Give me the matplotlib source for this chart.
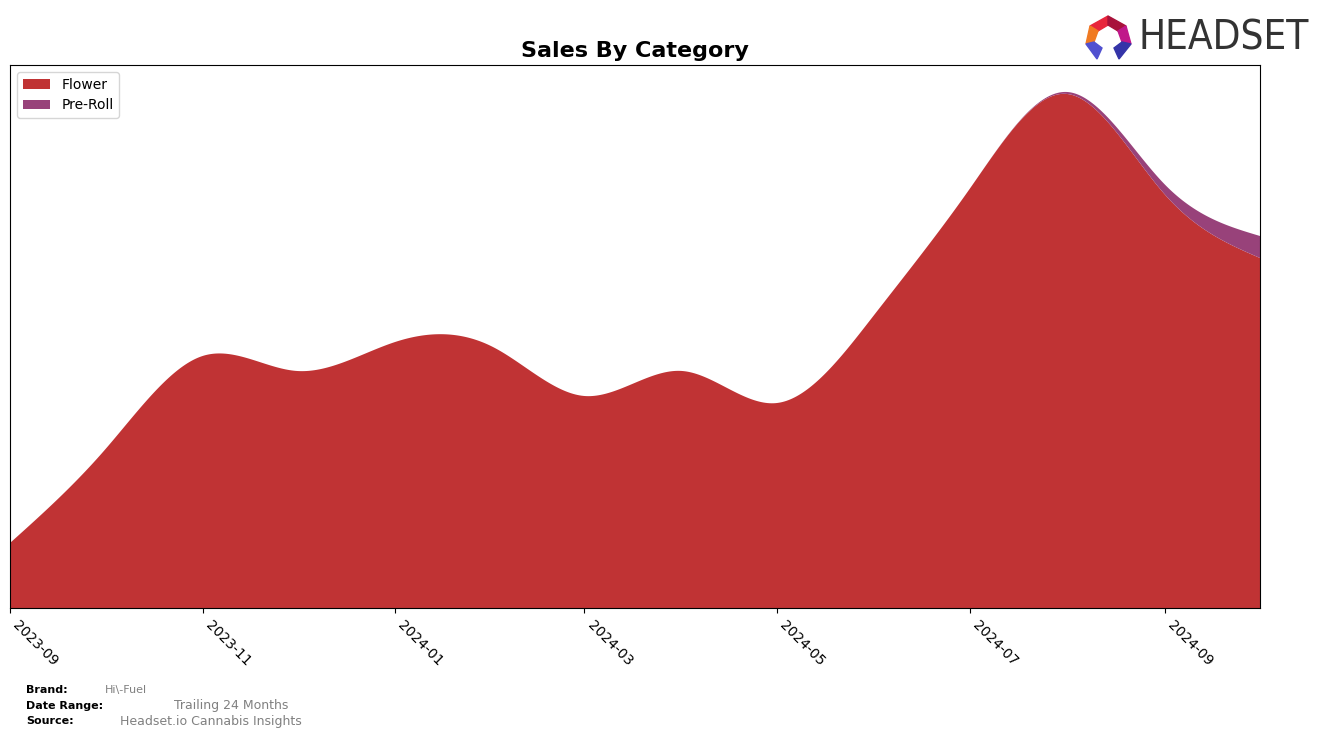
import numpy as np
import matplotlib
matplotlib.use('Agg')
import matplotlib.pyplot as plt
import matplotlib.dates as mdates
from matplotlib.patches import Polygon
from datetime import date

# monthly values (relative units, y axis has no labels)
months = ['2023-09', '2023-10', '2023-11', '2023-12', '2024-01', '2024-02', '2024-03',
          '2024-04', '2024-05', '2024-06', '2024-07', '2024-08', '2024-09', '2024-10']
flower = [65, 158, 252, 237, 266, 261, 212, 237, 205, 294, 419, 514, 413, 350]
pre_roll = [0, 0, 0, 0, 0, 0, 0, 0, 0, 0, 0, 2, 10, 22]

categories = ['Flower', 'Pre-Roll']
colors = ['#c03334', '#98427a']
tick_labels = ['2023-09', '2023-11', '2024-01', '2024-03', '2024-05', '2024-07', '2024-09']


def natural_spline(x, y, xs):
    x = np.asarray(x, float)
    y = np.asarray(y, float)
    n = len(x)
    h = np.diff(x)
    A = np.zeros((n, n))
    b = np.zeros(n)
    A[0, 0] = A[-1, -1] = 1
    for i in range(1, n - 1):
        A[i, i - 1] = h[i - 1]
        A[i, i] = 2 * (h[i - 1] + h[i])
        A[i, i + 1] = h[i]
        b[i] = 3 * ((y[i + 1] - y[i]) / h[i] - (y[i] - y[i - 1]) / h[i - 1])
    c = np.linalg.solve(A, b)
    bc = (y[1:] - y[:-1]) / h - h * (2 * c[:-1] + c[1:]) / 3
    d = (c[1:] - c[:-1]) / (3 * h)
    idx = np.clip(np.searchsorted(x, xs) - 1, 0, n - 2)
    dx = xs - x[idx]
    return y[idx] + bc[idx] * dx + c[idx] * dx ** 2 + d[idx] * dx ** 3


x = mdates.date2num([date(int(m[:4]), int(m[5:]), 1) for m in months])
xs = np.linspace(x[0], x[-1], 600)
flower_s = np.clip(natural_spline(x, flower, xs), 0, None)
pre_roll_s = np.clip(natural_spline(x, pre_roll, xs), 0, None)
pre_roll_s[xs < x[10]] = 0

fig = plt.figure(figsize=(13.24, 7.38), dpi=100)
ax = fig.add_axes([10 / 1324, 1 - 608 / 738, 1250 / 1324, 543 / 738])

ax.stackplot(xs, flower_s, pre_roll_s, colors=colors, labels=categories)
ax.set_xlim(x[0], x[-1])
ax.set_ylim(0, 543)
ax.set_yticks([])
ticks = mdates.date2num([date(int(t[:4]), int(t[5:]), 1) for t in tick_labels])
ax.set_xticks(ticks)
ax.set_xticklabels(tick_labels, rotation=-45, ha='left', fontsize=10)
ax.legend(loc='upper left', fontsize=10, handlelength=2)
ax.set_title('Sales By Category', fontsize=16, fontweight='bold', pad=6)

# footer
fig.text(26 / 1324, 1 - 690 / 738, 'Brand:', fontsize=8, fontweight='bold', va='center')
fig.text(105 / 1324, 1 - 690 / 738, 'Hi\\-Fuel', fontsize=8, color='grey', va='center')
fig.text(26 / 1324, 1 - 706 / 738, 'Date Range:', fontsize=8, fontweight='bold', va='center')
fig.text(174 / 1324, 1 - 706 / 738, 'Trailing 24 Months', fontsize=9, color='grey', va='center')
fig.text(26 / 1324, 1 - 721 / 738, 'Source:', fontsize=8, fontweight='bold', va='center')
fig.text(120 / 1324, 1 - 721 / 738, 'Headset.io Cannabis Insights', fontsize=9, color='grey', va='center')

# logo
lax = fig.add_axes([1080 / 1324, 1 - 65 / 738, 240 / 1324, 60 / 738])
lax.set_xlim(1080, 1320)
lax.set_ylim(65, 5)
lax.axis('off')
pieces = [
    ([(1090, 26), (1108, 16), (1108, 25), (1098, 31)], '#e8263c'),
    ([(1108, 16), (1126, 26), (1118, 31), (1108, 25)], '#a8123a'),
    ([(1126, 26), (1131, 44), (1122, 42), (1118, 31)], '#c0188a'),
    ([(1090, 26), (1098, 31), (1094, 42), (1086, 44)], '#f07a22'),
    ([(1086, 44), (1094, 42), (1102, 48), (1097, 59)], '#5050d0'),
    ([(1131, 44), (1122, 42), (1114, 48), (1119, 59)], '#3434a8'),
]
for pts, col in pieces:
    lax.add_patch(Polygon(pts, closed=True, color=col))
lax.text(1139, 38, 'HEADSET', fontsize=29, color='#333333', va='center', ha='left',
         family=['Liberation Sans Narrow', 'DejaVu Sans'], fontstretch='condensed')

plt.savefig('out.png', dpi=100)
